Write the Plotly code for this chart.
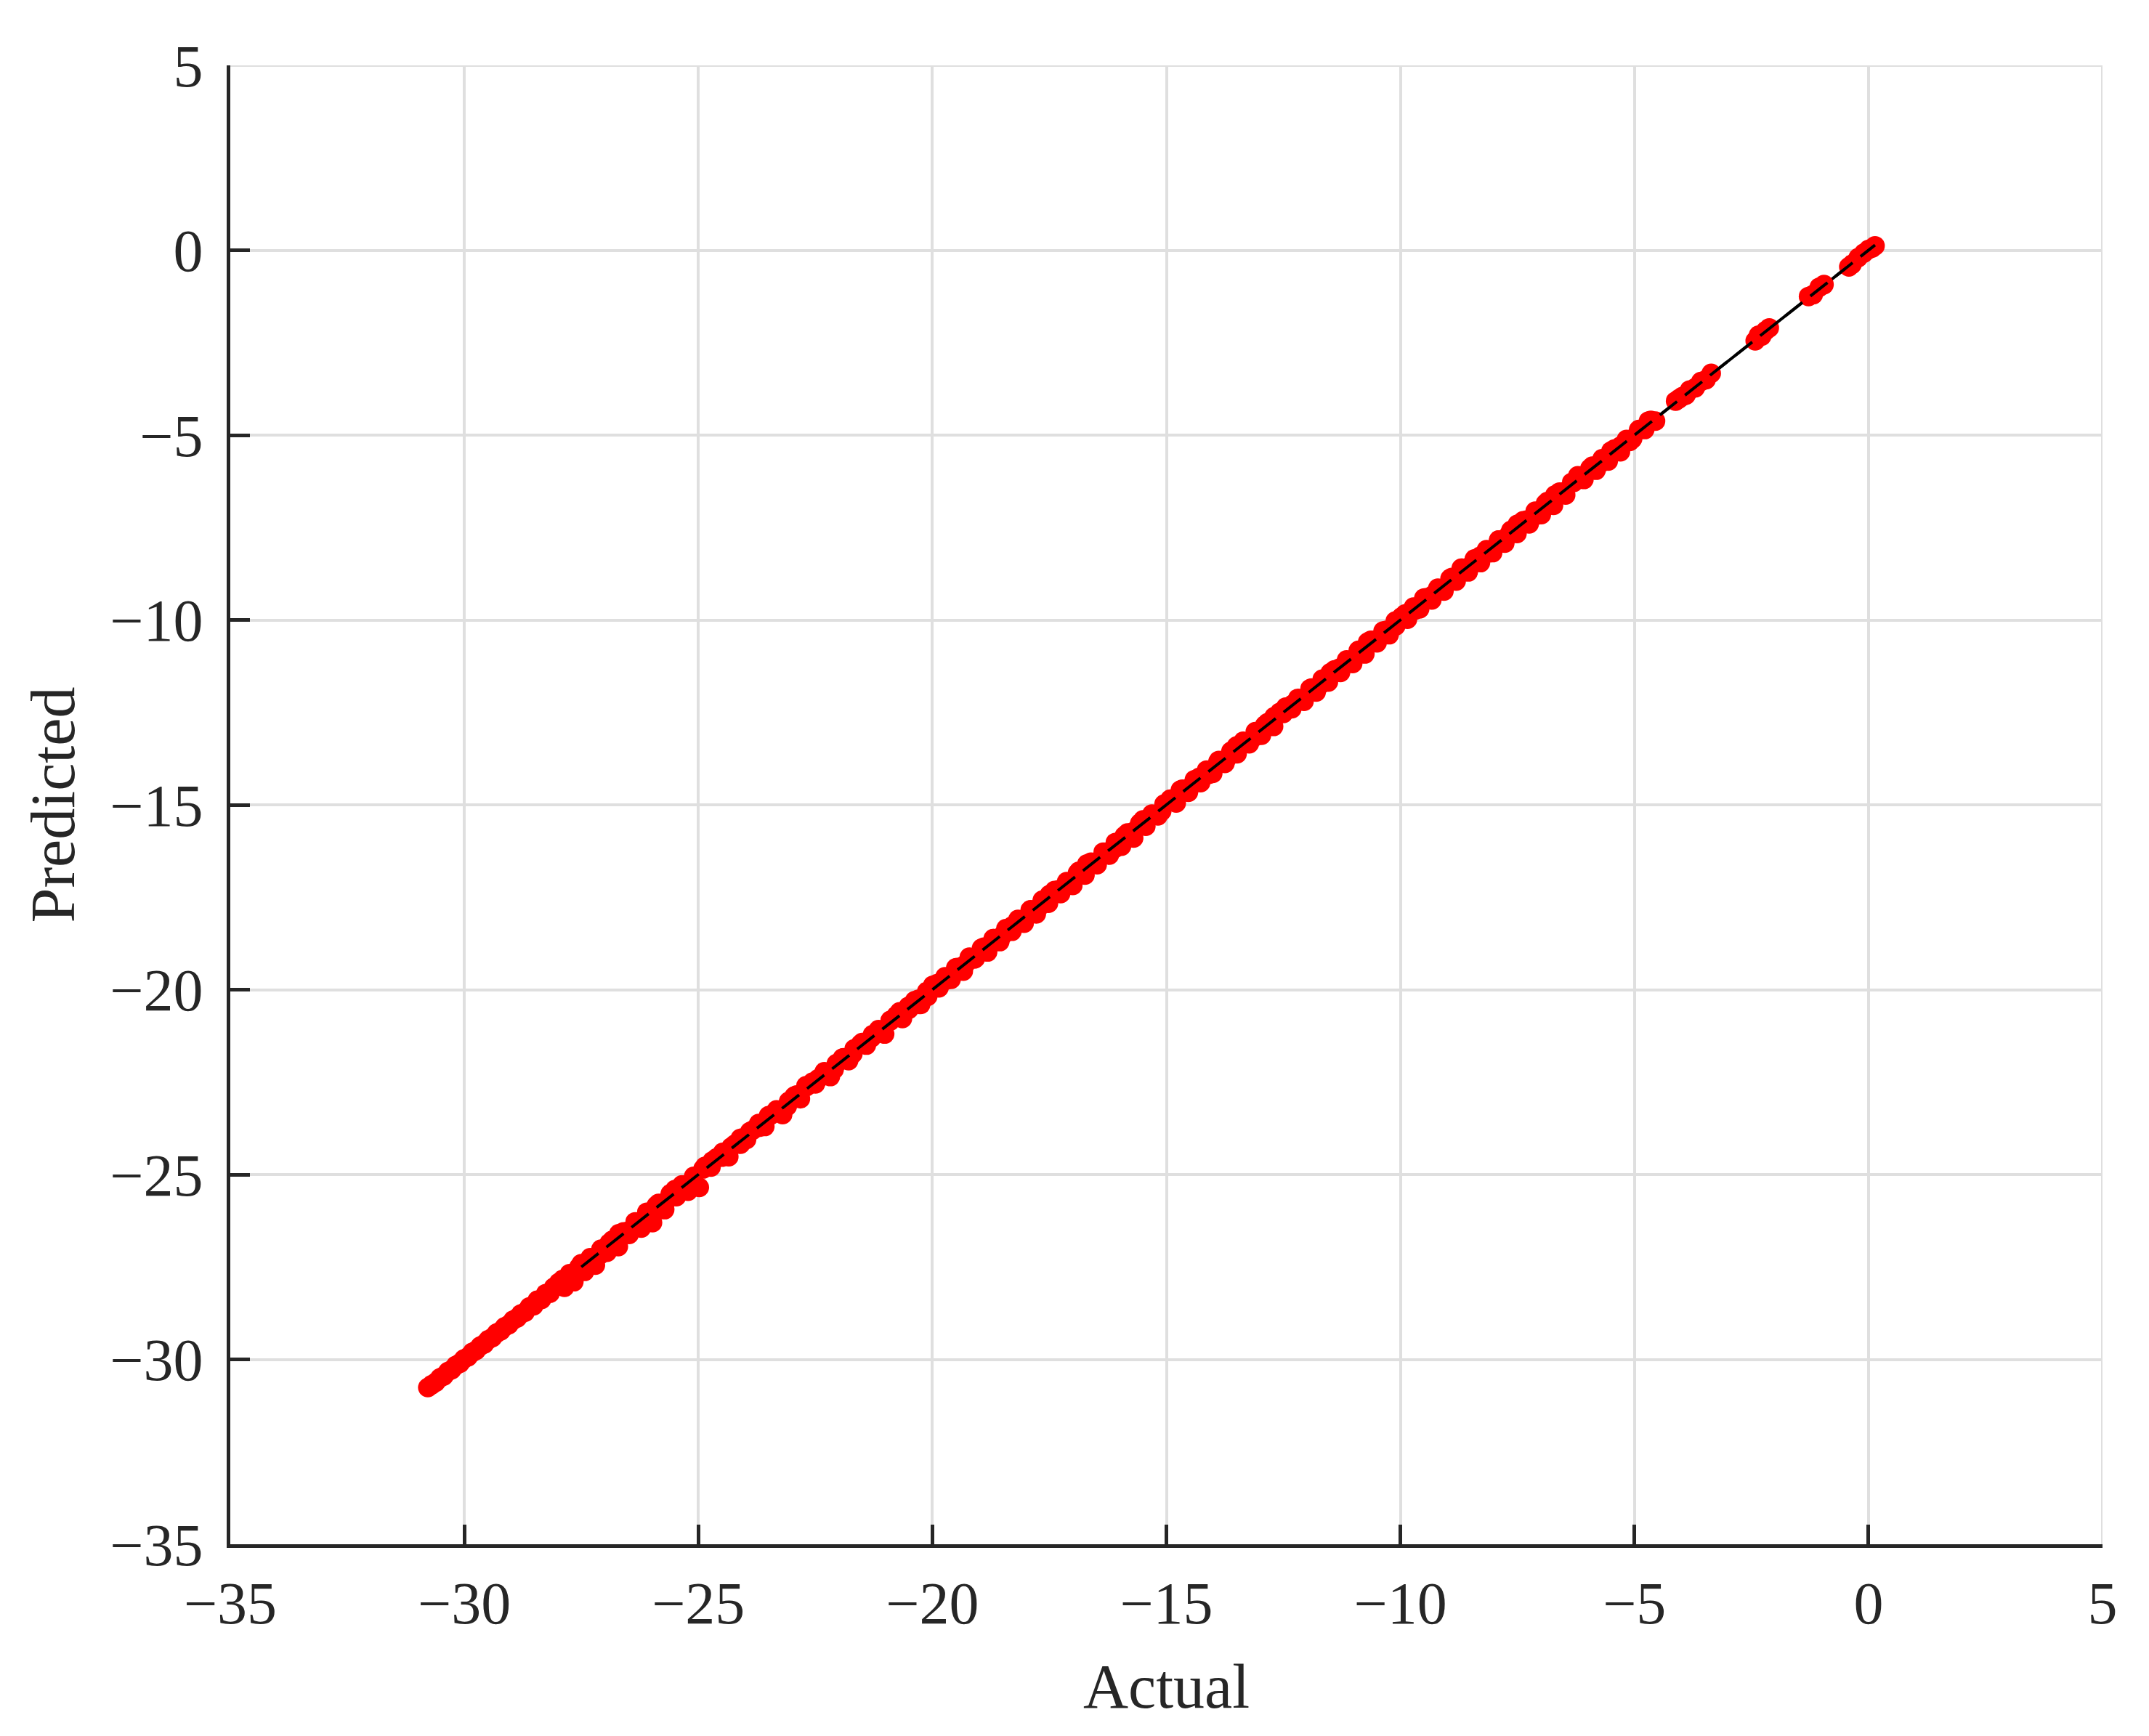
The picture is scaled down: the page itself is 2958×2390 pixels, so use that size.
import plotly.graph_objects as go

# actual vs predicted values
actual = [
    -30.78, -30.70, -30.61, -30.52, -30.44, -30.35, -30.27, -30.18, -30.09, -30.01,
    -29.92, -29.83, -29.75, -29.66, -29.57, -29.49, -29.40, -29.31, -29.22, -29.14,
    -29.05, -28.96, -28.87, -28.79, -28.70, -28.61, -28.52, -28.44, -28.35, -28.26,
    -28.17, -28.09,
    -27.98, -27.86, -27.75, -27.66, -27.55, -27.43, -27.31, -27.20, -27.08, -26.95,
    -26.84, -26.71, -26.60, -26.48, -26.35, -26.22, -26.10, -25.98, -25.85, -25.72,
    -25.60, -25.47, -25.35, -25.22, -25.10, -24.98,
    -24.86, -24.73, -24.61, -24.48, -24.35, -24.22, -24.10, -23.97, -23.84, -23.71,
    -23.58, -23.46, -23.33, -23.20, -23.07, -22.95, -22.82, -22.69, -22.56, -22.43,
    -22.31, -22.18, -22.05, -21.92, -21.79, -21.67, -21.54, -21.41, -21.28, -21.15,
    -21.02, -20.90, -20.77, -20.64, -20.51, -20.38, -20.25, -20.12,
    -19.99, -19.86, -19.73, -19.60, -19.47, -19.34, -19.21, -19.08, -18.95, -18.82,
    -18.69, -18.56, -18.43, -18.30, -18.17, -18.04, -17.91, -17.78, -17.65, -17.52,
    -17.39, -17.26, -17.13, -17.00, -16.87, -16.74, -16.61, -16.48, -16.35, -16.22,
    -16.09, -15.96, -15.83, -15.70, -15.57, -15.44, -15.31, -15.18, -15.05,
    -14.92, -14.79, -14.66, -14.53, -14.40, -14.27, -14.14, -14.01, -13.88, -13.75,
    -13.62, -13.49, -13.36, -13.23, -13.10, -12.97, -12.84, -12.71, -12.58, -12.45,
    -12.32, -12.19, -12.06, -11.93, -11.80, -11.67, -11.54, -11.41, -11.28, -11.15,
    -11.02, -10.89, -10.76, -10.63, -10.50, -10.37, -10.24, -10.11,
    -9.98, -9.85, -9.72, -9.59, -9.46, -9.33, -9.20, -9.07, -8.94, -8.81,
    -8.68, -8.55, -8.42, -8.29, -8.16, -8.03, -7.90, -7.77, -7.64, -7.51,
    -7.38, -7.25, -7.12, -6.99, -6.86, -6.73, -6.60, -6.47, -6.34, -6.21,
    -6.08, -5.95, -5.82, -5.69, -5.56, -5.43, -5.30, -5.17, -5.04, -4.91,
    -4.78, -4.65, -4.55,
    -4.12, -4.05, -3.98, -3.90, -3.82, -3.70, -3.58, -3.47, -3.36,
    -2.42, -2.35, -2.28, -2.20, -2.12,
    -1.28, -1.18, -1.05, -0.95,
    -0.42, -0.35, -0.22, -0.10, 0.00, 0.08, 0.14,
]

predicted = [
    -30.76, -30.69, -30.62, -30.50, -30.45, -30.33, -30.28, -30.16, -30.10, -29.99,
    -29.93, -29.81, -29.76, -29.64, -29.58, -29.47, -29.41, -29.29, -29.23, -29.12,
    -29.06, -28.94, -28.88, -28.77, -28.72, -28.58, -28.55, -28.40, -28.38, -28.22,
    -28.21, -28.05,
    -27.92, -28.05, -27.68, -27.90, -27.50, -27.62, -27.25, -27.45, -27.02, -27.10,
    -26.78, -26.95, -26.55, -26.62, -26.28, -26.45, -26.02, -26.30, -25.78, -25.95,
    -25.52, -25.60, -25.28, -25.45, -25.05, -25.35,
    -24.78, -24.80, -24.55, -24.40, -24.52, -24.18, -24.02, -24.05, -23.80, -23.62,
    -23.70, -23.40, -23.25, -23.38, -23.02, -22.88, -22.95, -22.62, -22.50, -22.40,
    -22.22, -22.35, -22.00, -21.85, -21.92, -21.60, -21.48, -21.50, -21.22, -21.08,
    -21.20, -20.85, -20.70, -20.78, -20.45, -20.30, -20.40, -20.05,
    -19.88, -19.95, -19.65, -19.72, -19.40, -19.50, -19.12, -19.15, -18.88, -18.98,
    -18.62, -18.70, -18.35, -18.42, -18.10, -18.20, -17.85, -17.95, -17.58, -17.66,
    -17.32, -17.40, -17.08, -17.18, -16.80, -16.90, -16.55, -16.62, -16.28, -16.36,
    -16.02, -16.12, -15.76, -15.90, -15.50, -15.58, -15.25, -15.30, -14.98,
    -14.85, -14.95, -14.58, -14.66, -14.32, -14.40, -14.06, -14.15, -13.80, -13.88,
    -13.55, -13.62, -13.28, -13.35, -13.02, -13.12, -12.78, -12.88, -12.50, -12.36,
    -12.40, -12.12, -12.20, -11.86, -11.95, -11.60, -11.68, -11.35, -11.42, -11.08,
    -11.18, -10.82, -10.92, -10.55, -10.62, -10.30, -10.40, -10.03,
    -9.92, -9.98, -9.65, -9.70, -9.40, -9.46, -9.14, -9.22, -8.88, -8.95,
    -8.60, -8.70, -8.35, -8.45, -8.10, -8.18, -7.84, -7.92, -7.58, -7.66,
    -7.32, -7.40, -7.06, -7.15, -6.80, -6.90, -6.54, -6.62, -6.28, -6.10,
    -6.20, -5.90, -5.95, -5.64, -5.70, -5.38, -5.45, -5.12, -5.10, -4.86,
    -4.85, -4.60, -4.62,
    -4.08, -4.02, -3.96, -3.92, -3.78, -3.72, -3.55, -3.50, -3.33,
    -2.45, -2.30, -2.32, -2.18, -2.10,
    -1.25, -1.20, -1.00, -0.93,
    -0.45, -0.38, -0.20, -0.08, 0.02, 0.06, 0.12,
]

# second batch of points lying close to the diagonal inside the dense band
actual_b = [
    -27.90, -27.70, -27.50, -27.30, -27.10, -26.90, -26.70, -26.50, -26.30, -26.10,
    -25.90, -25.70, -25.50, -25.30, -25.10, -24.90, -24.70, -24.50, -24.30, -24.10,
    -23.90, -23.70, -23.50, -23.30, -23.10, -22.90, -22.70, -22.50, -22.30, -22.10,
    -21.90, -21.70, -21.50, -21.30, -21.10, -20.90, -20.70, -20.50, -20.30, -20.10,
    -19.90, -19.70, -19.50, -19.30, -19.10, -18.90, -18.70, -18.50, -18.30, -18.10,
    -17.90, -17.70, -17.50, -17.30, -17.10, -16.90, -16.70, -16.50, -16.30, -16.10,
    -15.90, -15.70, -15.50, -15.30, -15.10, -14.90, -14.70, -14.50, -14.30, -14.10,
    -13.90, -13.70, -13.50, -13.30, -13.10, -12.90, -12.70, -12.50, -12.30, -12.10,
    -11.90, -11.70, -11.50, -11.30, -11.10, -10.90, -10.70, -10.50, -10.30, -10.10,
    -9.90, -9.70, -9.50, -9.30, -9.10, -8.90, -8.70, -8.50, -8.30, -8.10,
    -7.90, -7.70, -7.50, -7.30, -7.10, -6.90, -6.70, -6.50, -6.30, -6.10,
    -5.90, -5.70, -5.50, -5.30, -5.10, -4.90, -4.70,
]

predicted_b = [
    -27.84, -27.74, -27.41, -27.30, -27.17, -26.85, -26.60, -26.53, -26.28, -26.18,
    -25.84, -25.74, -25.41, -25.30, -25.17, -24.85, -24.63, -24.53, -24.26, -24.18,
    -23.84, -23.72, -23.41, -23.30, -23.15, -22.85, -22.60, -22.55, -22.28, -22.16,
    -21.84, -21.74, -21.43, -21.30, -21.17, -20.83, -20.60, -20.53, -20.26, -20.18,
    -19.84, -19.74, -19.41, -19.32, -19.17, -18.85, -18.62, -18.53, -18.28, -18.15,
    -17.84, -17.74, -17.43, -17.30, -17.17, -16.85, -16.60, -16.55, -16.28, -16.18,
    -15.84, -15.72, -15.41, -15.30, -15.17, -14.85, -14.60, -14.53, -14.26, -14.18,
    -13.84, -13.74, -13.41, -13.30, -13.15, -12.85, -12.62, -12.53, -12.28, -12.18,
    -11.84, -11.74, -11.43, -11.30, -11.17, -10.83, -10.60, -10.53, -10.28, -10.16,
    -9.84, -9.74, -9.41, -9.32, -9.17, -8.85, -8.60, -8.53, -8.28, -8.18,
    -7.84, -7.72, -7.41, -7.30, -7.17, -6.85, -6.62, -6.53, -6.28, -6.18,
    -5.84, -5.74, -5.43, -5.30, -5.17, -4.85, -4.62,
]

# y = x reference line
line_x = [-30.78, 0.14]
line_top_x = [-27.5, 0.14]

ticks = [-35, -30, -25, -20, -15, -10, -5, 0, 5]

FONT = "Liberation Serif"
AXIS = "#262626"
GRID = "#dfdfdf"
RED = "#ff0000"

fig = go.Figure()
fig.add_trace(go.Scatter(x=line_x, y=line_x, mode="lines",
                         line=dict(color="black", width=4), showlegend=False))
fig.add_trace(go.Scatter(x=actual_b, y=predicted_b, mode="markers",
                         marker=dict(color=RED, size=27, line=dict(width=0)),
                         showlegend=False))
fig.add_trace(go.Scatter(x=actual, y=predicted, mode="markers",
                         marker=dict(color=RED, size=27, line=dict(width=0)),
                         showlegend=False))
fig.add_trace(go.Scatter(x=line_top_x, y=line_top_x, mode="lines",
                         line=dict(color="black", width=4, dash="30px,14px"),
                         showlegend=False))

axis_common = dict(
    range=[-35, 5], tickvals=ticks, showgrid=True, gridcolor=GRID, gridwidth=4,
    zeroline=False, showline=True, linecolor=AXIS, linewidth=5,
    ticks="inside", ticklen=27, tickwidth=5, tickcolor=AXIS,
    tickfont=dict(family=FONT, size=82, color=AXIS),
)

fig.update_xaxes(**axis_common, ticklabelstandoff=6,
                 title=dict(text="Actual", font=dict(family=FONT, size=86, color=AXIS), standoff=40))
fig.update_yaxes(**axis_common, ticklabelstandoff=16,
                 title=dict(text="Predicted", font=dict(family=FONT, size=86, color=AXIS), standoff=22))

# grid lines along the top and right edges
fig.add_shape(type="line", xref="paper", yref="y", x0=0, x1=1, y0=5, y1=5,
              line=dict(color=GRID, width=4), layer="below")
fig.add_shape(type="line", xref="x", yref="paper", x0=5, x1=5, y0=0, y1=1,
              line=dict(color=GRID, width=4), layer="below")

fig.update_layout(
    width=2942, height=2374,
    margin=dict(l=309, r=56, t=82, b=256),
    paper_bgcolor="white", plot_bgcolor="white",
    font=dict(family=FONT, color=AXIS),
)

fig.write_html("out.html")
